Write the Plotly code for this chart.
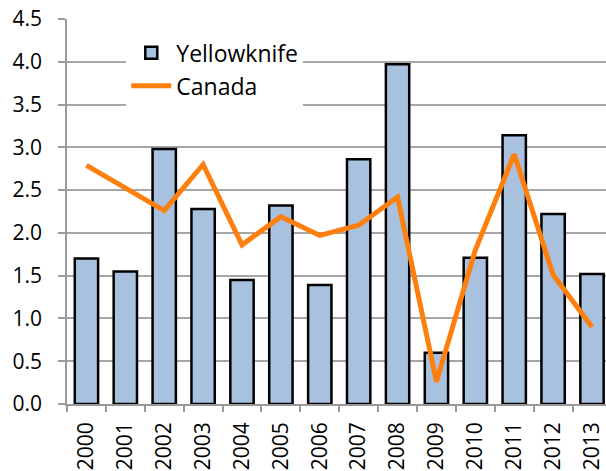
import plotly.graph_objects as go

years = ["2000", "2001", "2002", "2003", "2004", "2005", "2006",
         "2007", "2008", "2009", "2010", "2011", "2012", "2013"]
yellowknife = [1.70, 1.55, 2.98, 2.28, 1.45, 2.32, 1.39,
               2.86, 3.97, 0.60, 1.71, 3.14, 2.22, 1.52]
canada = [2.79, 2.52, 2.26, 2.80, 1.86, 2.19, 1.97,
          2.09, 2.42, 0.26, 1.80, 2.92, 1.51, 0.90]

font_family = "Open Sans"

fig = go.Figure()
fig.add_trace(go.Bar(
    x=years, y=yellowknife, name="Yellowknife",
    marker=dict(color="#a7c1df", line=dict(color="#000000", width=2.5)),
))
fig.add_trace(go.Scatter(
    x=years, y=canada, name="Canada", mode="lines",
    line=dict(color="#ff7f0e", width=5),
))

fig.update_layout(
    width=606, height=471,
    margin=dict(l=67, r=0, t=19, b=67),
    paper_bgcolor="white", plot_bgcolor="white",
    bargap=0.4,
    showlegend=True,
    font=dict(family=font_family, size=21, color="#000000"),
    legend=dict(
        x=0.11, y=0.968, xanchor="left", yanchor="top",
        bgcolor="white", font=dict(size=23),
        tracegroupgap=0, itemwidth=40,
    ),
    xaxis=dict(
        type="category",
        range=[-0.5, 13.36],
        automargin=False,
        tickangle=-90,
        showgrid=False,
        showline=True, linecolor="#999999", linewidth=1.5,
        ticks="outside", ticklen=6, tickcolor="#999999", tickwidth=1.5,
        tickson="boundaries",
        ticklabelstandoff=8,
        ticklabeloverflow="allow",
        tickfont=dict(size=21),
    ),
    yaxis=dict(
        range=[0, 4.5], dtick=0.5, tickformat=".1f",
        automargin=False,
        showgrid=True, gridcolor="#a6a6a6", gridwidth=1.5,
        showline=True, linecolor="#999999", linewidth=1.5,
        ticks="outside", ticklen=7, tickcolor="#999999", tickwidth=1.5,
        zeroline=False,
        ticklabelstandoff=12,
        ticklabeloverflow="allow",
        tickfont=dict(size=21),
    ),
)

fig.write_html("out.html", config={"displayModeBar": False},
               post_script="document.body.style.margin='0px';")
